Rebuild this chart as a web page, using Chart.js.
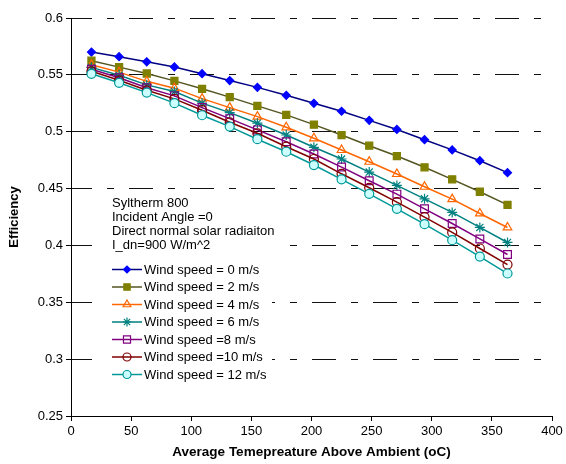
<!DOCTYPE html>
<html>
<head>
<meta charset="utf-8">
<script src="https://cdn.jsdelivr.net/npm/chart.js@4.4.1/dist/chart.umd.min.js"></script>
<style>
  html, body { margin: 0; padding: 0; background: #fff; }
  #wrap { width: 566px; height: 464px; }
</style>
</head>
<body>
<div id="wrap"><canvas id="myChart" width="566" height="464"></canvas></div>
<script>
// temperatures (oC above ambient)
const temps = [17, 40, 63, 86, 109, 132, 155, 179, 202, 225, 248, 271, 294, 317, 340, 363];

// efficiency per wind speed
const wind0  = [0.570, 0.566, 0.5615, 0.557, 0.551, 0.545, 0.539, 0.532, 0.525, 0.518, 0.510, 0.502, 0.493, 0.484, 0.4745, 0.464];
const wind2  = [0.5624, 0.5568, 0.5512, 0.5447, 0.5377, 0.5304, 0.5227, 0.5148, 0.5062, 0.4971, 0.4877, 0.4786, 0.4687, 0.4581, 0.4472, 0.4357];
const wind4  = [0.5588, 0.5524, 0.5443, 0.5383, 0.5291, 0.5212, 0.5133, 0.5039, 0.4942, 0.4839, 0.4736, 0.4628, 0.4516, 0.4407, 0.4281, 0.4158];
const wind6  = [0.5566, 0.5496, 0.5412, 0.5353, 0.5251, 0.5168, 0.5075, 0.4971, 0.4863, 0.4760, 0.4645, 0.4528, 0.4410, 0.4290, 0.4158, 0.4026];
const wind8  = [0.5549, 0.5474, 0.5386, 0.5315, 0.5212, 0.5115, 0.5016, 0.4912, 0.4804, 0.4689, 0.4569, 0.4451, 0.4322, 0.4193, 0.4057, 0.3920];
const wind10 = [0.5531, 0.5452, 0.5364, 0.5289, 0.5189, 0.5083, 0.4986, 0.4868, 0.4760, 0.4630, 0.4507, 0.4381, 0.4249, 0.4114, 0.3973, 0.3832];
const wind12 = [0.5509, 0.5430, 0.5344, 0.5251, 0.5145, 0.5045, 0.4934, 0.4824, 0.4707, 0.4581, 0.4454, 0.4322, 0.4187, 0.4046, 0.3902, 0.3753];

const seriesLabels = [
  "Wind speed = 0 m/s",
  "Wind speed = 2 m/s",
  "Wind speed = 4 m/s",
  "Wind speed = 6 m/s",
  "Wind speed =8 m/s",
  "Wind speed =10 m/s",
  "Wind speed = 12 m/s",
];
const noteLines = [
  "Syltherm 800",
  "Incident Angle =0",
  "Direct normal solar radiaiton",
  "I_dn=900 W/m^2",
];
const yTicks = [0.25, 0.3, 0.35, 0.4, 0.45, 0.5, 0.55, 0.6];
const xTicks = [0, 50, 100, 150, 200, 250, 300, 350, 400];

const FONT = "Liberation Sans, Arial, sans-serif";

function pts(values) {
  return temps.map((t, i) => ({ x: t, y: values[i] }));
}

function series(label, values, line, style, radius, border, fill) {
  return {
    label: label,
    data: pts(values),
    borderColor: line,
    borderWidth: 1.5,
    pointStyle: style,
    pointRadius: radius,
    pointBorderColor: border,
    pointBackgroundColor: fill,
    pointBorderWidth: 1.2,
    tension: 0,
    fill: false,
  };
}

const datasets = [
  series(seriesLabels[0], wind0, "#000080", "rectRot", 4, "#0000ff", "#0000ff"),
  series(seriesLabels[1], wind2, "#555522", "rect", 5, "#808000", "#808000"),
  series(seriesLabels[2], wind4, "#ff6600", "triangle", 5, "#ff6600", "rgba(255,255,255,0)"),
  series(seriesLabels[3], wind6, "#008080", "star", 5, "#008080", "#008080"),
  series(seriesLabels[4], wind8, "#800080", "rect", 5.5, "#800080", "rgba(255,255,255,0)"),
  series(seriesLabels[5], wind10, "#800000", "circle", 4.5, "#800000", "rgba(255,255,255,0)"),
  series(seriesLabels[6], wind12, "#009999", "circle", 4.5, "#009999", "#ccffff"),
];
// Excel draws later series on top
datasets.forEach((d, i) => (d.order = datasets.length - i));

// legend + text box drawn inside the plot, on white boxes
const insideLegend = {
  id: "insideLegend",
  afterDraw(chart) {
    const c = chart.ctx;
    c.save();
    c.fillStyle = "#fff";
    c.fillRect(106, 194, 176, 58);
    c.fillRect(106, 259, 166, 125);

    c.fillStyle = "#000";
    c.font = "13px " + FONT;
    c.textBaseline = "middle";
    c.textAlign = "left";
    noteLines.forEach((t, i) => c.fillText(t, 112, 203 + i * 14));

    const sets = chart.data.datasets;
    sets.forEach((ds, i) => {
      const y = 269.5 + i * 17.5;
      c.strokeStyle = ds.borderColor;
      c.lineWidth = ds.borderWidth;
      c.beginPath();
      c.moveTo(112, y);
      c.lineTo(142, y);
      c.stroke();
      c.strokeStyle = ds.pointBorderColor;
      c.fillStyle = ds.pointBackgroundColor;
      c.lineWidth = ds.pointBorderWidth;
      Chart.helpers.drawPoint(c, {
        pointStyle: ds.pointStyle,
        radius: ds.pointRadius - 0.5,
        rotation: 0,
        borderWidth: ds.pointBorderWidth,
      }, 127, y);
      c.fillStyle = "#000";
      c.fillText(ds.label, 144, y + 0.5);
    });
    c.restore();
  },
};

const ctx = document.getElementById("myChart");
const myChart = new Chart(ctx, {
  type: "line",
  data: { datasets: datasets },
  options: {
    responsive: false,
    animation: false,
    layout: { padding: { top: 18, right: 14, left: 0, bottom: 0 } },
    plugins: {
      legend: { display: false },
      tooltip: { enabled: false },
    },
    scales: {
      x: {
        type: "linear",
        min: 0,
        max: 400,
        afterBuildTicks: (axis) => (axis.ticks = xTicks.map((v) => ({ value: v }))),
        ticks: {
          color: "#000",
          font: { family: FONT, size: 13 },
          padding: 3,
          maxRotation: 0,
        },
        grid: {
          drawOnChartArea: false,
          drawTicks: true,
          tickLength: 5,
          color: "#000",
          tickColor: "#000",
          lineWidth: 1,
        },
        border: { display: true, color: "#000", width: 1 },
        title: {
          display: true,
          text: "Average Temepreature Above Ambient (oC)",
          color: "#000",
          font: { family: FONT, size: 13.5, weight: "bold" },
          padding: { top: 4, bottom: 4 },
        },
        afterFit: (axis) => (axis.height = 48),
      },
      y: {
        min: 0.25,
        max: 0.6,
        afterBuildTicks: (axis) => (axis.ticks = yTicks.map((v) => ({ value: v }))),
        ticks: {
          color: "#000",
          font: { family: FONT, size: 13 },
          padding: 3,
          callback: (v) => String(+v.toFixed(2)),
        },
        grid: {
          drawOnChartArea: true,
          drawTicks: true,
          tickLength: 5,
          color: (c) => (c.tick && c.tick.value === 0.25 ? "rgba(0,0,0,0)" : "#111"),
          tickColor: "#000",
          lineWidth: 1,
        },
        border: { display: true, color: "#000", width: 1, dash: [24, 15, 7, 15], dashOffset: 4 },
        title: {
          display: true,
          text: "Efficiency",
          color: "#000",
          font: { family: FONT, size: 13, weight: "bold" },
          padding: { top: 7, bottom: 4 },
        },
        afterFit: (axis) => (axis.width = 71),
      },
    },
  },
  plugins: [insideLegend],
});
</script>
</body>
</html>
